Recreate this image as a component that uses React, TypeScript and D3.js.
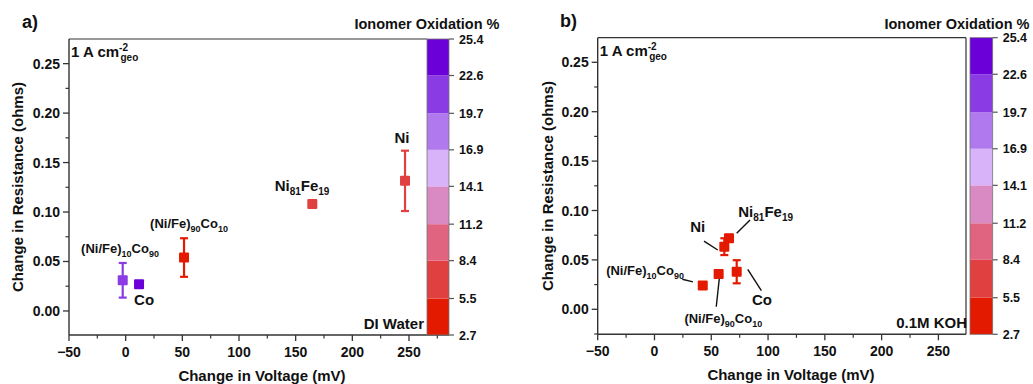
import React from "react";
import * as d3 from "d3";

const FONT = "'Liberation Sans', Arial, Helvetica, sans-serif";
const W = 1033;
const H = 384;

// ---- axis ticks ----
const xTicks = [-50, 0, 50, 100, 150, 200, 250];
const yTicks = [0, 0.05, 0.1, 0.15, 0.2, 0.25];
const cbTicks = [2.7, 5.5, 8.4, 11.2, 14.1, 16.9, 19.7, 22.6, 25.4];
const cbColors = ["#e31a00", "#e04040", "#e06480", "#da8ac2", "#d8b3f9", "#b079ee", "#8b3be3", "#6b00d8"];

// ---- panel a (DI Water) ----
const aNames = ["(Ni/Fe)_{10}Co_{90}", "Co", "(Ni/Fe)_{90}Co_{10}", "Ni_{81}Fe_{19}", "Ni"];
const aDV = [-2.6, 11.8, 51.5, 164.7, 246.5];
const aDR = [0.031, 0.027, 0.054, 0.108, 0.1315];
const aErr = [0.0175, 0.003, 0.0195, 0.003, 0.0305];
const aOx = [21.0, 24.0, 4.0, 7.0, 7.6];
const aLabelV = [-5, 7.4, 55.9, 155.6, 243.8];
const aLabelR = [0.0586, 0.006, 0.0839, 0.1213, 0.17];
const aLabelAnchor = ["middle", "start", "middle", "middle", "middle"];
const aLabelSize = [13, 15, 13, 15, 15];

// ---- panel b (0.1M KOH) ----
const bNames = ["(Ni/Fe)_{10}Co_{90}", "(Ni/Fe)_{90}Co_{10}", "Co", "Ni", "Ni_{81}Fe_{19}"];
const bDV = [42.5, 56.5, 72.4, 61.5, 65.6];
const bDR = [0.024, 0.0357, 0.038, 0.0634, 0.0718];
const bErr = [0.003, 0.003, 0.0117, 0.0085, 0.0035];
const bOx = [4.0, 4.0, 3.0, 4.0, 4.0];
const bLabelV = [-8.3, 60.6, 85.9, 38.1, 73.8];
const bLabelR = [0.0347, -0.0139, 0.0044, 0.0782, 0.0934];
const bLabelAnchor = ["middle", "middle", "start", "middle", "start"];
const bLabelSize = [13, 13, 15, 15, 15];
// leader lines [v1, r1, v2, r2]
const bLeaderV1 = [24.5, 57.1, 82.1, 43.6, 84.1];
const bLeaderR1 = [0.0304, 0.0314, 0.0405, 0.069, 0.0904];
const bLeaderV2 = [33.9, 54.4, 94.1, 55.7, 72.4];
const bLeaderR2 = [0.0277, 0.0026, 0.0188, 0.06, 0.0769];

const colorScale = d3.scaleThreshold<number, string>().domain(cbTicks.slice(1, -1)).range(cbColors);

type Seg = { t: string; k: "n" | "sub" | "sup" };
function parseRich(s: string): Seg[] {
  const out: Seg[] = [];
  const re = /_\{([^}]*)\}|\^\{([^}]*)\}/g;
  let last = 0;
  let m: RegExpExecArray | null;
  while ((m = re.exec(s))) {
    if (m.index > last) out.push({ t: s.slice(last, m.index), k: "n" });
    if (m[1] !== undefined) out.push({ t: m[1], k: "sub" });
    else out.push({ t: m[2], k: "sup" });
    last = re.lastIndex;
  }
  if (last < s.length) out.push({ t: s.slice(last), k: "n" });
  return out;
}

function RichText({ x, y, s, size, anchor }: { x: number; y: number; s: string; size: number; anchor: string }) {
  const segs = parseRich(s);
  const subSize = Math.round(size * 0.68);
  const shift = size * 0.28;
  let cur = 0;
  return (
    <text x={x} y={y} fontSize={size} fontWeight="bold" fontFamily={FONT} textAnchor={anchor} fill="#111">
      {segs.map((g, i) => {
        const target = g.k === "sub" ? shift : g.k === "sup" ? -shift * 1.6 : 0;
        const dy = target - cur;
        cur = target;
        return (
          <tspan key={i} dy={dy} fontSize={g.k === "n" ? size : subSize}>
            {g.t}
          </tspan>
        );
      })}
    </text>
  );
}

type PanelProps = {
  letter: string;
  lx: number;
  ly: number;
  x0: number;
  x1: number;
  y0: number;
  y1: number;
  xDom: [number, number];
  yDom: [number, number];
  frameRight: boolean;
  cbX0: number;
  cbX1: number;
  cbTitleX: number;
  cbTitleY: number;
  yLabelX: number;
  xLabelX: number;
  xLabelY: number;
  medium: string;
  names: string[];
  dv: number[];
  dr: number[];
  err: number[];
  ox: number[];
  labV: number[];
  labR: number[];
  labAnchor: string[];
  labSize: number[];
  leaders?: { v1: number[]; r1: number[]; v2: number[]; r2: number[] };
};

function Panel(p: PanelProps) {
  const x = d3.scaleLinear().domain(p.xDom).range([p.x0, p.x1]);
  const y = d3.scaleLinear().domain(p.yDom).range([p.y1, p.y0]);
  const cy = d3.scaleLinear().domain([cbTicks[0], cbTicks[cbTicks.length - 1]]).range([p.y1, p.y0]);
  const fx = d3.format(".0f");
  const fy = d3.format(".2f");
  const xMinor = d3.range(-50, p.xDom[1] + 0.001, 25).filter((v) => !xTicks.includes(v));
  const yMinor = d3
    .range(-0.025, p.yDom[1], 0.025)
    .filter((v) => v >= p.yDom[0] && Math.abs((v / 0.05) - Math.round(v / 0.05)) > 0.01);
  const axisColor = "#333";
  const frameRightX = p.frameRight ? p.x1 : p.cbX0;
  const leaders = p.leaders;
  return (
    <g>
      <text x={p.lx} y={p.ly} fontSize={18} fontWeight="bold" fontFamily={FONT} fill="#111">
        {p.letter}
      </text>
      {/* frame */}
      <line x1={p.x0} x2={frameRightX} y1={p.y0} y2={p.y0} stroke={axisColor} strokeWidth={1.2} />
      {p.frameRight && <line x1={p.x1} x2={p.x1} y1={p.y0} y2={p.y1} stroke={axisColor} strokeWidth={1.2} />}
      <line x1={p.x0} x2={p.x1} y1={p.y1} y2={p.y1} stroke={axisColor} strokeWidth={1.4} />
      <line x1={p.x0} x2={p.x0} y1={p.y0} y2={p.y1} stroke={axisColor} strokeWidth={1.4} />
      {/* x ticks */}
      {xTicks.map((t) => (
        <g key={"xt" + t}>
          <line x1={x(t)} x2={x(t)} y1={p.y1} y2={p.y1 + 6} stroke={axisColor} strokeWidth={1.3} />
          <text x={x(t)} y={p.y1 + 22} fontSize={14} fontWeight="bold" fontFamily={FONT} textAnchor="middle" fill="#111">
            {fx(t)}
          </text>
        </g>
      ))}
      {xMinor.map((t) => (
        <line key={"xm" + t} x1={x(t)} x2={x(t)} y1={p.y1} y2={p.y1 + 3.5} stroke={axisColor} strokeWidth={1.2} />
      ))}
      {/* y ticks */}
      {yTicks.map((t) => (
        <g key={"yt" + t}>
          <line x1={p.x0 - 6} x2={p.x0} y1={y(t)} y2={y(t)} stroke={axisColor} strokeWidth={1.3} />
          <text x={p.x0 - 9} y={y(t) + 5} fontSize={14} fontWeight="bold" fontFamily={FONT} textAnchor="end" fill="#111">
            {fy(t)}
          </text>
        </g>
      ))}
      {yMinor.map((t) => (
        <line key={"ym" + t} x1={p.x0 - 3.5} x2={p.x0} y1={y(t)} y2={y(t)} stroke={axisColor} strokeWidth={1.2} />
      ))}
      {/* axis titles */}
      <text
        transform={`translate(${p.yLabelX},${(p.y0 + p.y1) / 2}) rotate(-90)`}
        fontSize={15}
        fontWeight="bold"
        fontFamily={FONT}
        textAnchor="middle"
        dominantBaseline="central"
        fill="#111"
      >
        Change in Resistance (ohms)
      </text>
      <text x={p.xLabelX} y={p.xLabelY} fontSize={15} fontWeight="bold" fontFamily={FONT} textAnchor="middle" fill="#111">
        Change in Voltage (mV)
      </text>
      {/* current density annotation */}
      <text x={p.x0 + 2} y={p.y0 + 18} fontSize={15} fontWeight="bold" fontFamily={FONT} fill="#111">
        1 A cm
        <tspan dy={-6} fontSize={10}>
          -2
        </tspan>
      </text>
      <text x={p.x0 + 51.5} y={p.y0 + 22} fontSize={10} fontWeight="bold" fontFamily={FONT} fill="#111">
        geo
      </text>
      {/* medium */}
      <text x={p.cbX0 - 3} y={p.y1 - 6} fontSize={15} fontWeight="bold" fontFamily={FONT} textAnchor="end" fill="#111">
        {p.medium}
      </text>
      {/* leaders */}
      {leaders &&
        leaders.v1.map((_, i) => (
          <line
            key={"ld" + i}
            x1={x(leaders.v1[i])}
            y1={y(leaders.r1[i])}
            x2={x(leaders.v2[i])}
            y2={y(leaders.r2[i])}
            stroke="#111"
            strokeWidth={1.4}
          />
        ))}
      {/* points */}
      {p.dv.map((v, i) => {
        const c = colorScale(p.ox[i]);
        const px = x(v);
        const pt = y(p.dr[i] + p.err[i]);
        const pb = y(p.dr[i] - p.err[i]);
        return (
          <g key={"pt" + i}>
            <line x1={px} x2={px} y1={pt} y2={pb} stroke={c} strokeWidth={2.2} />
            <line x1={px - 4} x2={px + 4} y1={pt} y2={pt} stroke={c} strokeWidth={2.2} />
            <line x1={px - 4} x2={px + 4} y1={pb} y2={pb} stroke={c} strokeWidth={2.2} />
            <rect x={px - 5} y={y(p.dr[i]) - 5} width={10} height={10} rx={1} fill={c} />
          </g>
        );
      })}
      {/* point labels */}
      {p.names.map((n, i) => (
        <RichText key={"lb" + i} x={x(p.labV[i])} y={y(p.labR[i])} s={n} size={p.labSize[i]} anchor={p.labAnchor[i]} />
      ))}
      {/* colorbar */}
      {cbColors.map((c, i) => (
        <rect
          key={"cb" + i}
          x={p.cbX0}
          width={p.cbX1 - p.cbX0}
          y={cy(cbTicks[i + 1])}
          height={cy(cbTicks[i]) - cy(cbTicks[i + 1])}
          fill={c}
        />
      ))}
      <rect x={p.cbX0} y={p.y0} width={p.cbX1 - p.cbX0} height={p.y1 - p.y0} fill="none" stroke="#777" strokeWidth={0.8} />
      {cbTicks.map((t) => (
        <g key={"ct" + t}>
          <line x1={p.cbX1} x2={p.cbX1 + 5} y1={cy(t)} y2={cy(t)} stroke="#555" strokeWidth={1.2} />
          <text x={p.cbX1 + 10} y={cy(t) + 4.5} fontSize={12.5} fontWeight="bold" fontFamily={FONT} fill="#111">
            {t.toFixed(1)}
          </text>
        </g>
      ))}
      <text x={p.cbTitleX} y={p.cbTitleY} fontSize={14.5} fontWeight="bold" fontFamily={FONT} textAnchor="middle" fill="#111">
        Ionomer Oxidation %
      </text>
    </g>
  );
}

export default function App() {
  return (
    <svg width={W} height={H} style={{ position: "absolute", left: 0, top: 0, background: "#fff" }}>
      <rect width={W} height={H} fill="#fff" />
      <Panel
        letter="a)"
        lx={22}
        ly={28}
        x0={69}
        x1={449}
        y0={39}
        y1={335}
        xDom={[-50, 285.3]}
        yDom={[-0.0243, 0.2749]}
        frameRight={false}
        cbX0={427}
        cbX1={449}
        cbTitleX={427}
        cbTitleY={29}
        yLabelX={17}
        xLabelX={262}
        xLabelY={381}
        medium="DI Water"
        names={aNames}
        dv={aDV}
        dr={aDR}
        err={aErr}
        ox={aOx}
        labV={aLabelV}
        labR={aLabelR}
        labAnchor={aLabelAnchor}
        labSize={aLabelSize}
      />
      <Panel
        letter="b)"
        lx={560}
        ly={27}
        x0={597.7}
        x1={966}
        y0={37.7}
        y1={334.3}
        xDom={[-50, 274.3]}
        yDom={[-0.0253, 0.2749]}
        frameRight={true}
        cbX0={970}
        cbX1={992.7}
        cbTitleX={957}
        cbTitleY={29}
        yLabelX={547}
        xLabelX={791}
        xLabelY={380}
        medium="0.1M KOH"
        names={bNames}
        dv={bDV}
        dr={bDR}
        err={bErr}
        ox={bOx}
        labV={bLabelV}
        labR={bLabelR}
        labAnchor={bLabelAnchor}
        labSize={bLabelSize}
        leaders={{ v1: bLeaderV1, r1: bLeaderR1, v2: bLeaderV2, r2: bLeaderR2 }}
      />
    </svg>
  );
}
